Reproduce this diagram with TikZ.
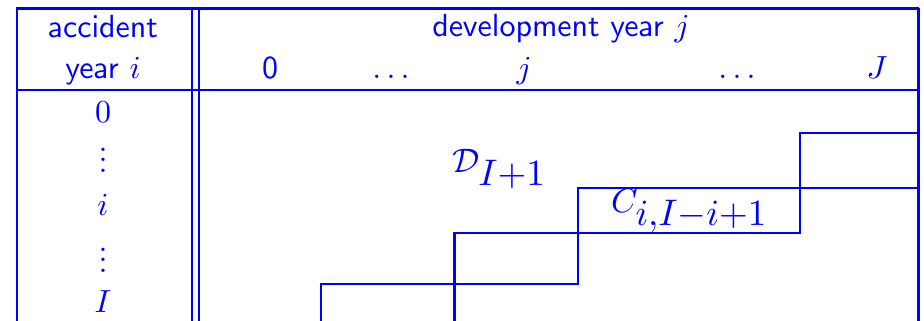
\RequirePackage{fix-cm}
\documentclass[tikz,border=0pt]{standalone}
\DeclareFontShape{OT1}{cmr}{m}{n}{<->cmr10}{}
\DeclareFontShape{OML}{cmm}{m}{it}{<->cmmi10}{}
\DeclareFontShape{OMS}{cmsy}{m}{n}{<->cmsy10}{}
\DeclareFontShape{OT1}{cmss}{m}{n}{<->cmss10}{}
\newcommand{\slidesans}{\fontencoding{OT1}\fontfamily{cmss}\fontseries{m}\fontshape{n}}
\tikzset{
  rule/.style={draw=blue, line width=2.3pt},
  dbl/.style={draw=blue, line width=2pt},
  stair/.style={draw=blue, line width=2.5pt},
  txt/.style={text=blue, inner sep=0pt, anchor=base, font=\fontsize{32}{38}\selectfont},
  stxt/.style={txt, font=\slidesans\fontsize{32}{38}\selectfont},
  mtxt/.style={text=blue, inner sep=0pt, anchor=base west, font=\fontsize{34}{40}\selectfont}
}
\newcommand{\bigsub}[1]{\hbox{\fontsize{37}{42}\selectfont$#1$}}
\newcommand{\tallvdots}{\vbox{\baselineskip=10.5pt\lineskiplimit=0pt\hbox{$.$}\hbox{$.$}\hbox{$.$}}}
\begin{document}
\begin{tikzpicture}[x=1pt,y=-1pt]
\useasboundingbox (0,0) rectangle (924,321);
\clip (0,0) rectangle (924,321);
% table frame
\draw[rule] (16,8.5) -- (919,8.5);
\draw[rule] (17,8) -- (17,330);
\draw[rule] (918.5,8) -- (918.5,330);
\draw[rule] (17,90) -- (918.5,90);
\draw[dbl] (192,8) -- (192,330);
\draw[dbl] (199,8) -- (199,330);
% staircases
\draw[stair] (321,330) -- (321,284) -- (578,284) -- (578,188) -- (918.5,188);
\draw[stair] (454.5,330) -- (454.5,233) -- (800,233) -- (800,133) -- (918.5,133);
% header
\node[stxt] (acc) at (103,38) {accident};
\node[stxt] (yi) at (103,78) {year $i$};
\node[stxt] (dev) at (561,37) {development year $j$};
\node[stxt] (c0) at (270,78) {0};
\node[txt] (c1) at (391,78) {$\ldots$};
\node[txt] (cj) at (524,78) {$j$};
\node[txt] (c2) at (737,78) {$\ldots$};
\node[txt] (cJ) at (877,78) {$J$};
% row labels
\node[txt] (r0) at (103,122) {$0$};
\node[txt] (r1) at (103,172) {\tallvdots};
\node[txt] (ri) at (103,215) {$i$};
\node[txt] (r2) at (103,272) {\tallvdots};
\node[txt] (rI) at (103,312) {$I$};
% labels
\node[mtxt] (D) at (452,172) {$\mathcal{D}_{\bigsub{I{+}1}}$};
\node[mtxt] (C) at (611,212) {$C_{\bigsub{i{,}I{-}i{+}1}}$};
\end{tikzpicture}
\end{document}
